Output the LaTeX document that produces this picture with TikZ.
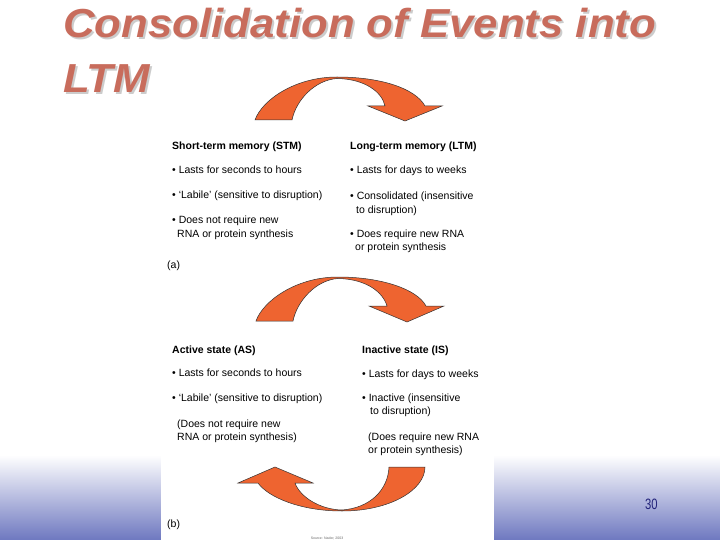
\documentclass[tikz,border=0pt]{standalone}
\usepackage{fontspec}
\setmainfont{Liberation Sans}
\newfontfamily\numfont[FakeStretch=0.75]{Liberation Sans}
\newfontfamily\titlefont[FakeStretch=1.08]{Liberation Sans}
\definecolor{titlecol}{HTML}{C86C5C}
\definecolor{arrowcol}{HTML}{EE6430}
\definecolor{gradbot}{HTML}{6E78C0}
\definecolor{numcol}{HTML}{22227A}
\newcommand{\shadowed}[1]{\rlap{\hspace{2pt}\raisebox{-2pt}{\textcolor{black!20}{#1}}}\textcolor{titlecol}{#1}}
\tikzset{
  txt/.style={anchor=base west, inner sep=0pt, font=\fontsize{10.5}{12}\selectfont},
  head/.style={txt, font=\fontsize{10.5}{12}\selectfont\bfseries},
  bigarrow/.style={fill=arrowcol, draw=black!80, line width=0.5pt, line join=miter},
  titletxt/.style={anchor=base west, inner sep=0pt, font=\titlefont\fontsize{40.5}{44}\selectfont\bfseries\itshape}
}
\begin{document}
\begin{tikzpicture}[x=1pt,y=-1pt]
\useasboundingbox (0,0) rectangle (720,540);
\fill[white] (0,0) rectangle (720,540);
\shade[top color=white, bottom color=gradbot] (0,455) rectangle (720,540);
\fill[white] (161,100) rectangle (494,540);
% title
\node[titletxt] (t1) at (63,37.5) {\shadowed{Consolidation of Events into}};
\node[titletxt] (t2) at (63,92.5) {\shadowed{LTM}};
% arrow 1
\path[bigarrow] (255,120) .. controls (262,100) and (295,77) .. (337,77)
  .. controls (380,77) and (415,88) .. (425,106) -- (442,106) -- (405,121) -- (368,106) -- (385,106)
  .. controls (382,92) and (365,79) .. (337,78.5)
  .. controls (315,80) and (296,100) .. (292,120) -- cycle;
% arrow 2
\path[bigarrow] (256,321) .. controls (263,301) and (296,277) .. (338,277)
  .. controls (381,277) and (417,289) .. (426,306) -- (444,306) -- (407,322) -- (369,306) -- (387,306)
  .. controls (383,292) and (366,279) .. (338,278.5)
  .. controls (316,280) and (297,301) .. (293,321) -- cycle;
% arrow 3
\path[bigarrow] (425,467) .. controls (425,490) and (390,511) .. (342,511)
  .. controls (300,511) and (268,497) .. (258,483) -- (238,483) -- (275,467) -- (313,483) -- (295,483)
  .. controls (300,497) and (320,509.5) .. (342,510)
  .. controls (370,508) and (388,490) .. (389,467) -- cycle;
% part (a)
\node[head] (stm) at (172,149.5) {Short-term memory (STM)};
\node[txt] (s1) at (172,173.5) {\textbullet\ Lasts for seconds to hours};
\node[txt] (s2) at (172,198.5) {\textbullet\ ‘Labile’ (sensitive to disruption)};
\node[txt] (s3) at (172,223.5) {\textbullet\ Does not require new};
\node[txt] (s4) at (177,237.5) {RNA or protein synthesis};
\node[txt] (a) at (167,268.5) {(a)};
\node[head] (ltm) at (350,149.5) {Long-term memory (LTM)};
\node[txt] (l1) at (350,173.5) {\textbullet\ Lasts for days to weeks};
\node[txt] (l2) at (350,199.5) {\textbullet\ Consolidated (insensitive};
\node[txt] (l3) at (356,213.5) {to disruption)};
\node[txt] (l4) at (350,237.5) {\textbullet\ Does require new RNA};
\node[txt] (l5) at (355,250.5) {or protein synthesis};
% part (b)
\node[head] (as) at (172,353.5) {Active state (AS)};
\node[txt] (a1) at (172,376.5) {\textbullet\ Lasts for seconds to hours};
\node[txt] (a2) at (172,401.5) {\textbullet\ ‘Labile’ (sensitive to disruption)};
\node[txt] (a3) at (177,427.5) {(Does not require new};
\node[txt] (a4) at (177,440.5) {RNA or protein synthesis)};
\node[head] (is) at (362,353.5) {Inactive state (IS)};
\node[txt] (i1) at (362,377.5) {\textbullet\ Lasts for days to weeks};
\node[txt] (i2) at (362,401.5) {\textbullet\ Inactive (insensitive};
\node[txt] (i3) at (370,414.5) {to disruption)};
\node[txt] (i4) at (368,440.5) {(Does require new RNA};
\node[txt] (i5) at (368,453.5) {or protein synthesis)};
\node[txt] (b) at (167,527.5) {(b)};
\node[anchor=base, inner sep=0pt, font=\fontsize{3.5}{4}\selectfont, text=black!60] (src) at (327,539) {Source: Nader, 2003};
% page number
\node[anchor=base west, inner sep=0pt, font=\numfont\fontsize{15}{16}\selectfont, text=numcol] (num) at (645,509.5) {30};
\end{tikzpicture}
\end{document}
